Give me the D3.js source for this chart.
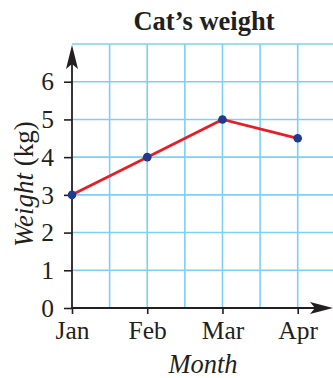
<!DOCTYPE html>
<html>
<head>
<meta charset="utf-8">
<script src="https://cdn.jsdelivr.net/npm/d3@7"></script>
<style>
  html, body { margin: 0; padding: 0; background: #fff; }
  svg { display: block; }
  text { font-family: "Liberation Serif", "DejaVu Serif", serif; fill: #231f20; }
</style>
</head>
<body>
<svg id="chart" width="333" height="378"></svg>
<script>
// Monthly weight of the cat
const months = ["Jan", "Feb", "Mar", "Apr"];
const weights = [3, 4, 5, 4.5];
const yTicks = [0, 1, 2, 3, 4, 5, 6];

const svg = d3.select("#chart");
const W = 333, H = 378;

const x = d3.scaleLinear().domain([0, 3]).range([72, 297.7]);
const y = d3.scaleLinear().domain([0, 7]).range([308, 44]);

const axisColor = "#231f20";
const gridColor = "#7dd0f3";
const labelSize = 25.5;

// Grid: vertical lines every half month, horizontal lines every kg
const gx = d3.range(0.5, 4, 0.5);
svg.append("g").selectAll("line").data(gx).join("line")
  .attr("x1", d => x(d)).attr("x2", d => x(d))
  .attr("y1", y(0)).attr("y2", y(7))
  .attr("stroke", gridColor).attr("stroke-width", 1.6);
svg.append("g").selectAll("line").data(d3.range(1, 8)).join("line")
  .attr("x1", x(0)).attr("x2", W)
  .attr("y1", d => y(d)).attr("y2", d => y(d))
  .attr("stroke", gridColor).attr("stroke-width", 1.6);

// Y axis
const yAxis = svg.append("g")
  .attr("transform", `translate(${x(0)},0)`)
  .call(d3.axisLeft(y).tickValues(yTicks).tickFormat(d3.format("d")).tickSize(8).tickPadding(10));
yAxis.select(".domain").remove();
yAxis.selectAll(".tick line").attr("stroke", axisColor).attr("stroke-width", 1.6);
yAxis.selectAll(".tick text").attr("font-size", labelSize).attr("fill", axisColor);

// X axis
const xAxis = svg.append("g")
  .attr("transform", `translate(0,${y(0)})`)
  .call(d3.axisBottom(x).tickValues(d3.range(months.length)).tickFormat(i => months[i]).tickSize(6).tickPadding(7));
xAxis.select(".domain").remove();
xAxis.selectAll(".tick line").attr("stroke", axisColor).attr("stroke-width", 1.6);
xAxis.selectAll(".tick text").attr("font-size", labelSize).attr("fill", axisColor);

// Axis lines with arrowheads
svg.append("line").attr("x1", x(0)).attr("x2", x(0))
  .attr("y1", y(0) + 1).attr("y2", 60)
  .attr("stroke", axisColor).attr("stroke-width", 1.8);
svg.append("path")
  .attr("d", `M${x(0)},45 L${x(0) + 6},69 L${x(0)},64 L${x(0) - 6},69 Z`)
  .attr("fill", axisColor);
svg.append("line").attr("x1", x(0) - 1).attr("x2", 322)
  .attr("y1", y(0)).attr("y2", y(0))
  .attr("stroke", axisColor).attr("stroke-width", 1.8);
svg.append("path")
  .attr("d", `M333,${y(0)} L310,${y(0) - 6} L315,${y(0)} L310,${y(0) + 6} Z`)
  .attr("fill", axisColor);

// Data line and points
const line = d3.line().x((d, i) => x(i)).y(d => y(d));
svg.append("path").datum(weights)
  .attr("d", line).attr("fill", "none")
  .attr("stroke", "#ec1c24").attr("stroke-width", 2.8);
svg.append("g").selectAll("circle").data(weights).join("circle")
  .attr("cx", (d, i) => x(i)).attr("cy", d => y(d)).attr("r", 4.3)
  .attr("fill", "#1f3a8f");

// Title
svg.append("text").attr("x", 204).attr("y", 30)
  .attr("text-anchor", "middle").attr("font-size", 26.5).attr("font-weight", "bold")
  .text("Cat’s weight");

// Axis titles
svg.append("text").attr("x", 203).attr("y", 373)
  .attr("text-anchor", "middle").attr("font-size", 26.5).attr("font-style", "italic")
  .text("Month");

const yl = svg.append("text")
  .attr("transform", "translate(33,247) rotate(-90)")
  .attr("text-anchor", "start").attr("font-size", 27);
yl.append("tspan").attr("font-style", "italic").text("Weight");
yl.append("tspan").text(" (kg)");
</script>
</body>
</html>
